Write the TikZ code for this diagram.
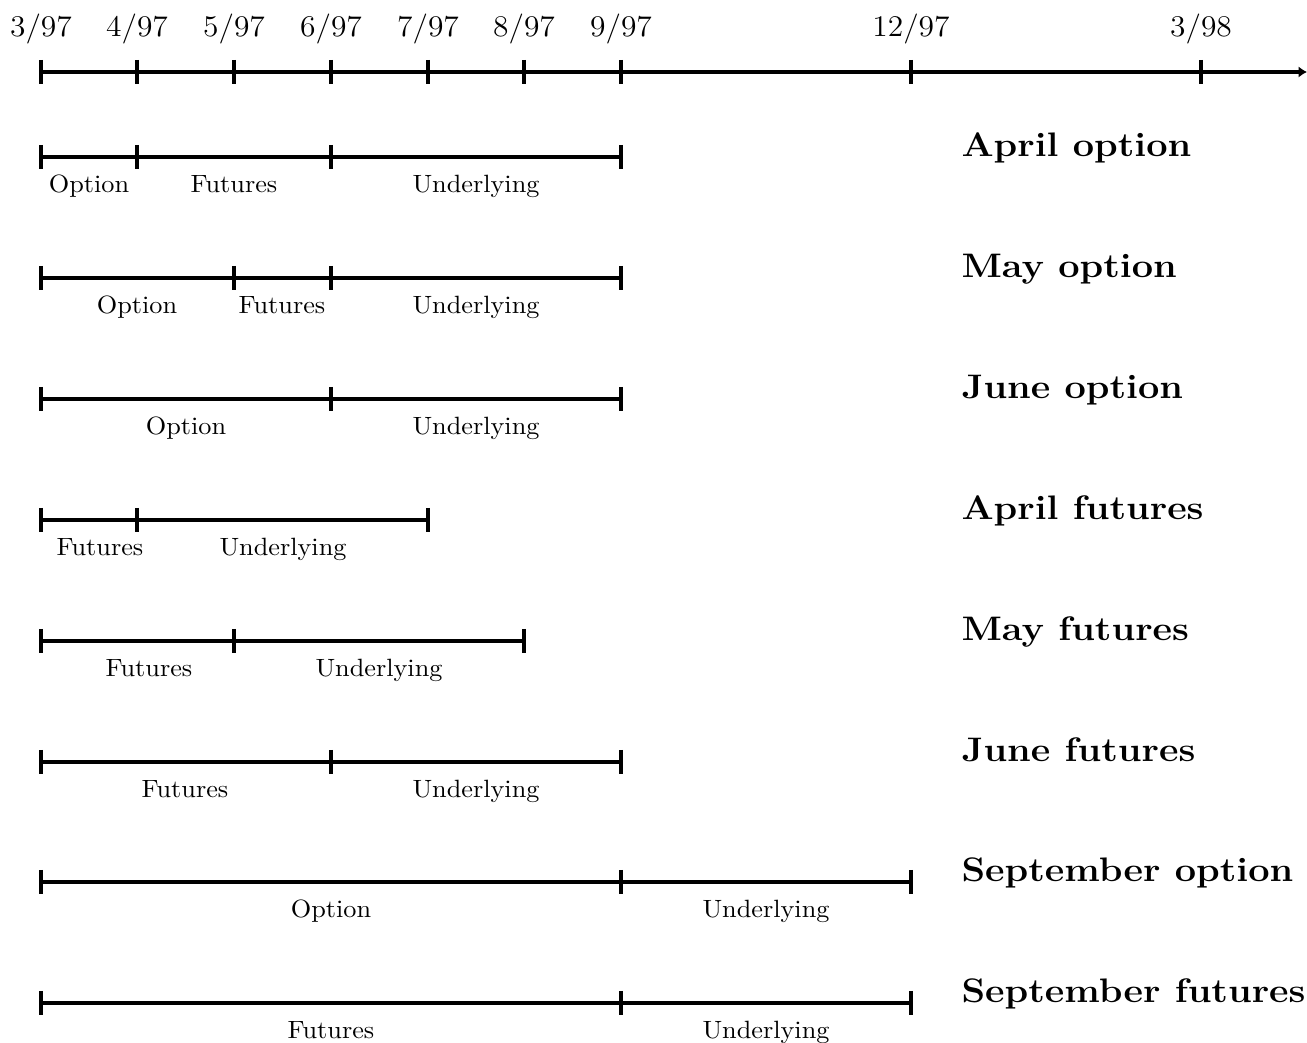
\documentclass[tikz,border=0pt]{standalone}
\usepackage{graphicx}
\usetikzlibrary{arrows.meta}
\newcommand\wdate[1]{\scalebox{1.05}[1]{$#1$}}
\newcommand\wseg[1]{\scalebox{1.05}[1]{#1}}
\newcommand\wtitle[1]{\scalebox{1.115}[1]{#1}}
\begin{document}
\begin{tikzpicture}[x=0.4pt,y=-0.4pt,
  axisline/.style={line width=1.25pt},
  tickmark/.style={line width=1.25pt},
  datelbl/.style={anchor=base,inner sep=0pt,font=\fontsize{11.8}{14}\selectfont},
  seglbl/.style={anchor=base,inner sep=0pt,font=\fontsize{10}{12}\selectfont},
  titlelbl/.style={anchor=base west,inner sep=0pt,font=\fontsize{13.6}{16}\selectfont\bfseries}]
\useasboundingbox (0,0) rectangle (1307,1043);
% main time axis
\coordinate (a0) at (41,72);
\coordinate (aend) at (1307,72);
\draw[axisline,-{Latex[length=3.4pt,width=4.6pt]}] (a0) -- (aend);
\foreach \x/\t/\n in {41/3\slash97/d0,137/4\slash97/d1,234/5\slash97/d2,331/6\slash97/d3,428/7\slash97/d4,524/8\slash97/d5,621/9\slash97/d6,911/12\slash97/d7,1201/3\slash98/d8}{
  \draw[tickmark] (\x,60) -- (\x,84);
  \node[datelbl] (\n) at (\x,37) {\wdate{\t}};
}
% rows: ticks and segments
\newcommand\myrow[3]{%
  % #1 = y, #2 = list of tick x positions, #3 = name prefix
  \foreach \x [count=\i] in {#2}{\coordinate (#3\i) at (\x,#1);}
  \foreach \x [count=\i] in {#2}{\draw[tickmark] (\x,#1-12) -- (\x,#1+12);}
}
\myrow{157}{41,137,331,621}{r1p}
\draw[axisline] (r1p1) -- (r1p2) -- (r1p3) -- (r1p4);
\node[seglbl] (r1a) at (89,193) {\wseg{Option}};
\node[seglbl] (r1b) at (234,193) {\wseg{Futures}};
\node[seglbl] (r1c) at (476,193) {\wseg{Underlying}};
\node[titlelbl] (t1) at (961,157) {\wtitle{April option}};

\myrow{278}{41,234,331,621}{r2p}
\draw[axisline] (r2p1) -- (r2p2) -- (r2p3) -- (r2p4);
\node[seglbl] (r2a) at (137,314) {\wseg{Option}};
\node[seglbl] (r2b) at (282,314) {\wseg{Futures}};
\node[seglbl] (r2c) at (476,314) {\wseg{Underlying}};
\node[titlelbl] (t2) at (961,278) {\wtitle{May option}};

\myrow{399}{41,331,621}{r3p}
\draw[axisline] (r3p1) -- (r3p2) -- (r3p3);
\node[seglbl] (r3a) at (186,435) {\wseg{Option}};
\node[seglbl] (r3c) at (476,435) {\wseg{Underlying}};
\node[titlelbl] (t3) at (961,399) {\wtitle{June option}};

\myrow{520}{41,137,428}{r4p}
\draw[axisline] (r4p1) -- (r4p2) -- (r4p3);
\node[seglbl] (r4a) at (100,556) {\wseg{Futures}};
\node[seglbl] (r4c) at (283,556) {\wseg{Underlying}};
\node[titlelbl] (t4) at (961,520) {\wtitle{April futures}};

\myrow{641}{41,234,524}{r5p}
\draw[axisline] (r5p1) -- (r5p2) -- (r5p3);
\node[seglbl] (r5a) at (149,677) {\wseg{Futures}};
\node[seglbl] (r5c) at (379,677) {\wseg{Underlying}};
\node[titlelbl] (t5) at (961,641) {\wtitle{May futures}};

\myrow{762}{41,331,621}{r6p}
\draw[axisline] (r6p1) -- (r6p2) -- (r6p3);
\node[seglbl] (r6a) at (185,798) {\wseg{Futures}};
\node[seglbl] (r6c) at (476,798) {\wseg{Underlying}};
\node[titlelbl] (t6) at (961,762) {\wtitle{June futures}};

\myrow{882}{41,621,911}{r7p}
\draw[axisline] (r7p1) -- (r7p2) -- (r7p3);
\node[seglbl] (r7a) at (331,918) {\wseg{Option}};
\node[seglbl] (r7c) at (766,918) {\wseg{Underlying}};
\node[titlelbl] (t7) at (961,882) {\wtitle{September option}};

\myrow{1003}{41,621,911}{r8p}
\draw[axisline] (r8p1) -- (r8p2) -- (r8p3);
\node[seglbl] (r8a) at (331,1039) {\wseg{Futures}};
\node[seglbl] (r8c) at (766,1039) {\wseg{Underlying}};
\node[titlelbl] (t8) at (961,1003) {\wtitle{September futures}};
\end{tikzpicture}
\end{document}
